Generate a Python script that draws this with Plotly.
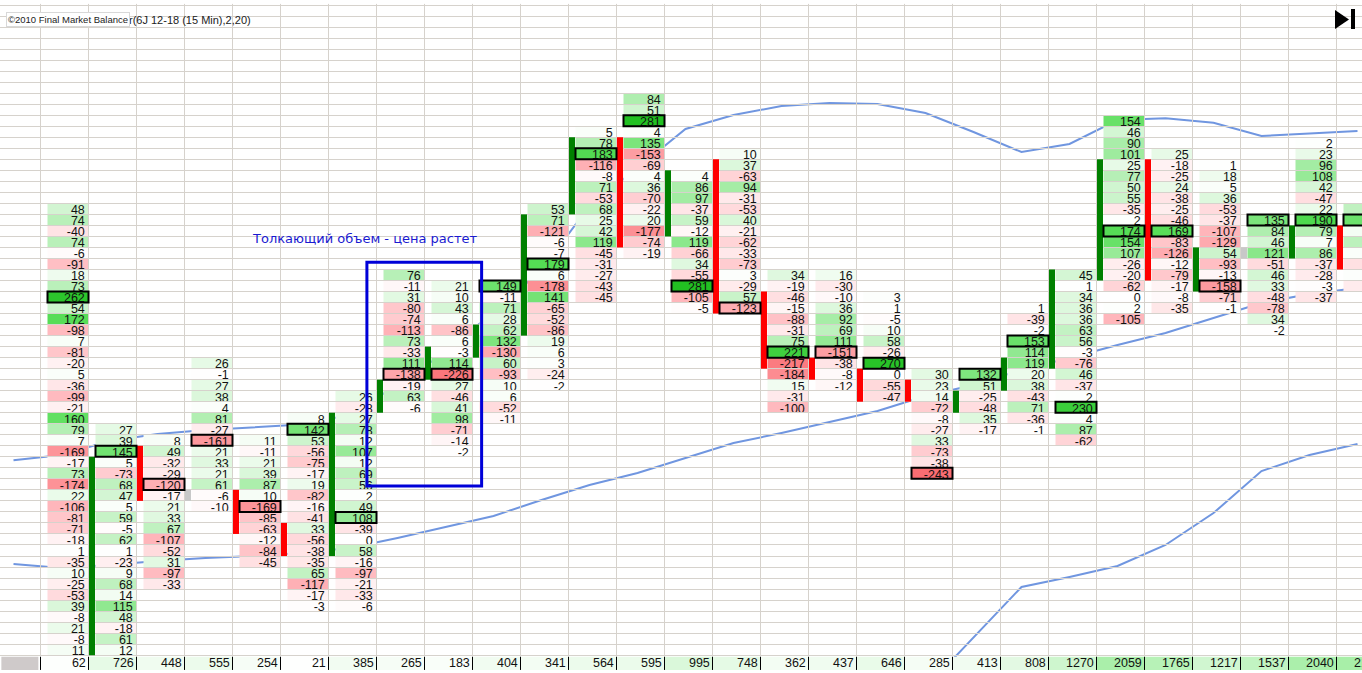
import numpy as np
import plotly.graph_objs as go

# delta por nivel de preco, uma lista por barra de 15 min
bar00 = [48, 74, -40, 74, -6, -91, 18, 73, 262, 54, 172, -98, 7, -81, -20, 5, -36, -99, -21, 160, 79, 7, -169, -17, 73, -174, 22, -106, -81, -71, -18, 1, -35, 10, -25, -53, 39, -8, 21, -8, 11]
bar01 = [27, 39, 145, 5, -73, 68, 47, 5, 59, -5, 62, 1, -23, 9, 68, 14, 115, 48, -18, 61, 12]
bar02 = [8, 49, -32, -29, -120, -17, 21, 33, 67, -107, -52, 31, -97, -33]
bar03 = [26, -1, 27, 38, 4, 81, -27, -161, 21, 33, 21, 61, -6, -10]
bar04 = [11, -11, 21, 39, 87, 10, -169, -85, -63, -12, -84, -45]
bar05 = [8, 142, 53, -56, -75, -17, 19, -82, -16, -41, 33, -56, -38, -35, 65, -117, -17, -3]
bar06 = [26, -28, 27, 78, 12, 107, 12, 69, 56, 2, 49, 108, -39, 0, 58, -16, -97, -21, -33, -6]
bar07 = [76, -11, 31, -80, -74, -113, 73, -33, 111, -138, -19, 63, -6]
bar08 = [21, 10, 43, 6, -86, 6, -3, 114, -226, 27, -46, 41, 98, -71, -14, -2]
bar09 = [149, -11, 71, 28, 62, 132, -130, 60, -93, 10, 6, -52, -11]
bar10 = [53, 71, -121, -6, -7, 179, 6, -178, 141, -65, -52, -86, 19, 6, 3, -24, -2]
bar11 = [5, 78, 183, -116, -8, 71, -53, 68, 25, 42, 119, -45, -31, -27, -43, -45]
bar12 = [84, 51, 281, 4, 135, -153, -69, 4, 36, -70, -22, 20, -177, -74, -19]
bar13 = [4, 86, 97, -37, 59, -12, 119, -66, 34, -55, 281, -105, -5]
bar14 = [10, 37, -63, 94, -31, -53, 40, -21, -62, -33, -73, 3, -29, 57, -123]
bar15 = [34, -19, -46, -15, -88, -31, 75, 221, -217, -184, 15, -31, -100]
bar16 = [16, -30, -10, 36, 92, 69, 111, -151, -38, -8, -12]
bar17 = [3, 1, -5, 10, 58, -26, 270, 0, -55, -47]
bar18 = [30, 23, 14, -72, -8, -27, 33, -73, -38, -243]
bar19 = [132, 51, -25, -48, 35, -17]
bar20 = [1, -39, -2, 153, 114, 119, 20, 38, -43, 71, -36, -1]
bar21 = [45, 1, 34, 36, 36, 63, 56, -3, -76, 46, -37, 2, 230, 4, 87, -62]
bar22 = [154, 46, 90, 101, 25, 77, 50, 55, -35, 2, 174, 154, 107, -26, -20, -62, 0, 2, -105]
bar23 = [25, -18, -25, 24, -38, -25, -46, 169, -83, -126, -12, -79, -17, -8, -35]
bar24 = [1, 18, 5, 36, -53, -37, -107, -129, 54, -93, -13, -158, -71, -1]
bar25 = [135, 84, 46, 121, -51, 46, 33, -48, -78, 34, -2]
bar26 = [2, 23, 96, 108, 42, -47, 22, 190, 79, 7, 86, -37, -28, -3, -37]
# a ultima barra esta cortada na tela: so a cor das celulas aparece
bar27 = [67, 150, 12, 71, 5, -45, 3, -28]
bars = [bar00, bar01, bar02, bar03, bar04, bar05, bar06, bar07, bar08, bar09, bar10, bar11, bar12, bar13,
        bar14, bar15, bar16, bar17, bar18, bar19, bar20, bar21, bar22, bar23, bar24, bar25, bar26, bar27]

# linha (nivel) do primeiro valor de cada barra e posicao do valor marcado
first_level = [18, 38, 39, 32, 39, 37, 35, 24, 25, 25, 18, 11, 8, 15, 13, 24, 24, 26, 33, 33, 27, 24, 10, 13, 14, 19, 12, 18]
poc_index = [8, 2, 4, 7, 6, 1, 11, 9, 8, 0, 5, 2, 2, 10, 14, 7, 7, 6, 9, 0, 3, 12, 10, 7, 11, 0, 7, 1]

volumes = [62, 726, 448, 555, 254, 21, 385, 265, 183, 404, 341, 564, 595, 995, 748, 362, 437, 646, 285, 413,
           808, 1270, 2059, 1765, 1217, 1537, 2040, 2100]

# corpo das velas: barra, nivel de cima, nivel de baixo, cor
candle_bar = [1, 2, 3, 4, 5, 6, 7, 8, 9, 10, 11, 12, 13, 14, 15, 16, 17, 18, 19, 20, 21, 22, 23, 24, 25, 26, 27]
candle_top = [41, 40, 44, 44, 47, 37, 34, 31, 29, 19, 12, 12, 15, 14, 26, 32, 33, 34, 35, 32, 24, 14, 14, 22, 22, 20, 20]
candle_end = [59, 45, 45, 48, 50, 50, 37, 34, 32, 30, 19, 22, 21, 28, 33, 34, 36, 36, 37, 35, 33, 25, 25, 26, 23, 23, 24]
candle_color = ['#008000', '#ff0000', '#c8c8c8', '#ff0000', '#ff0000', '#008000', '#008000', '#008000', '#008000',
                '#008000', '#008000', '#ff0000', '#008000', '#ff0000', '#ff0000', '#ff0000', '#ff0000', '#ff0000',
                '#008000', '#008000', '#008000', '#008000', '#ff0000', '#008000', '#c8c8c8', '#008000', '#ff0000']

# bandas (em niveis), um ponto por barra comecando uma barra antes da primeira
band_upper = [41.32, 40.83, 39.56, 38.93, 38.57, 38.29, 38.07, 37.21, 34.48, 31.49, 27.86, 24.05, 18.24, 14.79, 11.25,
              9.98, 9.17, 8.89, 8.98, 9.80, 11.52, 13.34, 12.61, 10.44, 10.28, 10.68, 11.89, 11.66, 11.43]
band_middle = [50.73, 51.09, 50.82, 50.45, 50.18, 50.00, 49.73, 49.27, 48.37, 47.37, 46.37, 44.92, 43.56, 42.47, 41.11,
               39.75, 38.84, 37.84, 36.84, 35.48, 34.48, 33.12, 32.03, 30.85, 29.76, 28.40, 27.04, 26.22, 25.68]
band_lower = [61.98, 57.35, 52.81, 51.91, 50.91, 49.00, 46.10, 42.29, 40.83, 39.84]

W, H, BOTTOM = 1362, 673, 3
COL_W, ROW_H = 48.0, 11.02
X0, Y0 = 40.5, 5.0
N_ROWS = 59
GRID = '#d6d2cc'
FONT = 'Liberation Sans'
GAP = 7 / COL_W

x_range = [-X0 / COL_W, (W - X0) / COL_W]
y_range = [(H - BOTTOM - Y0) / ROW_H, -Y0 / ROW_H]

delta_scale = [[0, '#fa696e'], [(290 - 250) / 580, '#fa696e'], [(290 - 100) / 580, '#ffb9be'], [0.5, '#ffffff'],
               [(290 + 74) / 580, '#b9f0b9'], [(290 + 170) / 580, '#58de58'], [1, '#1ebe1e']]
volume_scale = [[0, '#ffffff'], [0.35, '#e6fae6'], [1, '#a8efa8']]

# celulas
cell_x, cell_y, cell_v = [], [], []
for i, values in enumerate(bars):
    for j, v in enumerate(values):
        cell_x.append(i)
        cell_y.append(first_level[i] + j)
        cell_v.append(v)
cell_x = np.array(cell_x)
cell_y = np.array(cell_y)
cell_v = np.array(cell_v)
shown = cell_x < len(bars) - 1

bar_idx = np.arange(len(bars))
poc_y = np.array(first_level) + np.array(poc_index)

# linhas da grade passando por cima do texto
grid_x, grid_y = [], []
for k in range(N_ROWS + 1):
    level = (np.floor(Y0 + ROW_H * k) + 0.5 - Y0) / ROW_H
    grid_x += [x_range[0], x_range[1], None]
    grid_y += [level, level, None]
for i in range(-1, 29):
    grid_x += [i + 1, i + 1, None]
    grid_y += [-0.1, N_ROWS + 0.05, None]

sep_x, sep_y = [], []
for i in range(0, 29):
    sep_x += [i, i, None]
    sep_y += [N_ROWS + 0.14, N_ROWS + 1.34, None]

data = []
for name, vals, offset in [('Superior', band_upper, -1), ('Media', band_middle, -1), ('Inferior', band_lower, 18)]:
    data.append(go.Scatter(x=np.arange(len(vals)) + offset + 21 / COL_W, y=vals, mode='lines', name=name,
                           line=dict(color='#7096e0', width=2), xaxis='x', yaxis='y', hoverinfo='skip'))

data.append(go.Bar(x=cell_x + GAP + (1 - GAP) / 2, y=np.ones(len(cell_x)), base=cell_y, width=1 - GAP,
                   marker=dict(color=cell_v, colorscale=delta_scale, cmin=-290, cmax=290, line_width=0),
                   xaxis='x2', yaxis='y2'))
data.append(go.Scatter(x=cell_x[shown] + 1 - 3.7 / COL_W, y=cell_y[shown] + 0.7, mode='text',
                       text=[str(v) for v in cell_v[shown]], textposition='middle left',
                       textfont=dict(family=FONT, size=12.5, color='#111111'), xaxis='x2', yaxis='y2'))
data.append(go.Scatter(x=grid_x, y=grid_y, mode='lines', line=dict(color=GRID, width=1), xaxis='x2', yaxis='y2',
                       hoverinfo='skip'))

# faixa de volume no rodape
data.append(go.Bar(x=[-0.43], y=[1.2], base=[N_ROWS + 0.14], width=37 / COL_W, marker=dict(color='#cfcaca', line_width=0),
                   xaxis='x2', yaxis='y2'))
data.append(go.Bar(x=bar_idx + 0.5, y=np.full(len(bars), 1.2), base=np.full(len(bars), N_ROWS + 0.14), width=1,
                   marker=dict(color=volumes, colorscale=volume_scale, cmin=0, cmax=2100, line_width=0),
                   xaxis='x2', yaxis='y2'))
data.append(go.Scatter(x=sep_x, y=sep_y, mode='lines', line=dict(color='#000000', width=1), xaxis='x2', yaxis='y2',
                       hoverinfo='skip'))
data.append(go.Scatter(x=bar_idx + 1 - 2.7 / COL_W, y=np.full(len(bars), N_ROWS + 0.78), mode='text',
                       text=[str(v) for v in volumes], textposition='middle left',
                       textfont=dict(family=FONT, size=12.5, color='#111111'), xaxis='x2', yaxis='y2'))

# velas e marcacao do nivel principal
data.append(go.Bar(x=np.array(candle_bar) + 3.5 / COL_W, y=np.array(candle_end) - np.array(candle_top), base=candle_top,
                   width=6 / COL_W, marker=dict(color=candle_color, line_width=0), xaxis='x3', yaxis='y3'))
data.append(go.Bar(x=bar_idx + GAP + (1 - GAP) / 2, y=np.ones(len(bars)), base=poc_y, width=1 - GAP,
                   marker=dict(color='rgba(0,0,0,0)', line=dict(color='#000000', width=2)), xaxis='x3', yaxis='y3'))

hidden = dict(visible=False, showgrid=False, zeroline=False, fixedrange=True)
layout = go.Layout(width=W, height=H, margin=dict(l=0, r=0, t=0, b=BOTTOM), paper_bgcolor='white', plot_bgcolor='white',
                   showlegend=False, barmode='overlay', hovermode=False,
                   xaxis=dict(range=x_range, **hidden), yaxis=dict(range=y_range, **hidden),
                   xaxis2=dict(range=x_range, overlaying='x', **hidden), yaxis2=dict(range=y_range, overlaying='y', **hidden),
                   xaxis3=dict(range=x_range, overlaying='x', **hidden), yaxis3=dict(range=y_range, overlaying='y', **hidden),
                   shapes=[
                       dict(type='rect', xref='x', yref='y', x0=6.80, x1=9.19, y0=23.35, y1=43.65,
                            line=dict(color='#0000d8', width=3), layer='above'),
                       dict(type='path', xref='paper', yref='paper', fillcolor='#000000', line_width=0,
                            path=f'M {1335/W} {1-10/670} L {1349/W} {1-19.5/670} L {1335/W} {1-29/670} Z'),
                       dict(type='rect', xref='paper', yref='paper', fillcolor='#000000', line_width=0,
                            x0=1351 / W, x1=1355 / W, y0=1 - 9 / 670, y1=1 - 29 / 670),
                   ],
                   annotations=[
                       dict(text='Толкающий объем - цена растет', xref='x', yref='y', x=6.77, y=21.23, showarrow=False,
                            font=dict(family='DejaVu Sans', size=13, color='#1a1ad0')),
                       dict(text='r(6J 12-18 (15 Min),2,20)', xref='paper', yref='paper', x=127 / W, y=1 - 11.5 / 670,
                            xanchor='left', showarrow=False, font=dict(family=FONT, size=11, color='#222222')),
                       dict(text='©2010 Final Market Balance', xref='paper', yref='paper', x=6 / W, y=1 - 11.5 / 670,
                            xanchor='left', showarrow=False, font=dict(family=FONT, size=9.5, color='#222222'),
                            bgcolor='#ffffff', bordercolor='#d8d8d8', borderwidth=1, borderpad=1),
                   ])

fig = go.Figure(data=data, layout=layout)
fig.write_html("out.html", config={'displayModeBar': False}, post_script="document.body.style.margin='0';")
